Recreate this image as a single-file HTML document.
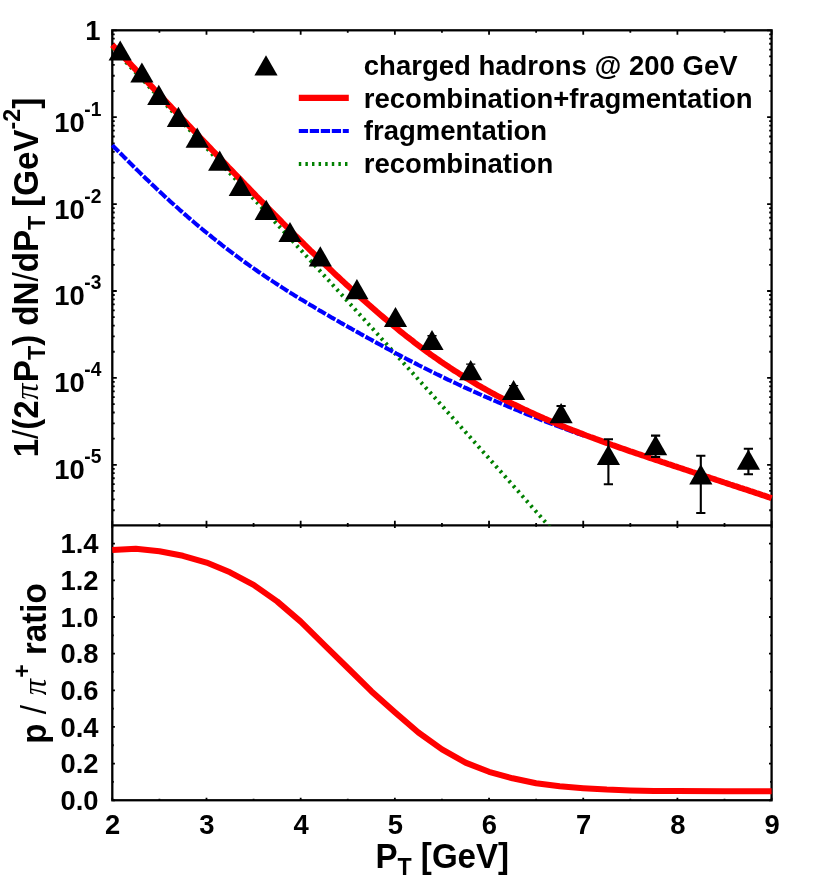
<!DOCTYPE html>
<html><head><meta charset="utf-8"><title>chart</title>
<style>html,body{margin:0;padding:0;background:#fff}svg{display:block}body{font-family:"Liberation Sans",sans-serif}</style></head>
<body>
<svg width="830" height="885" viewBox="0 0 830 885">
<rect width="830" height="885" fill="#fff"/>
<defs><clipPath id="ct"><rect x="106.3" y="30.3" width="671.3" height="495.1"/></clipPath></defs>
<g stroke="#000" fill="none">
<rect x="112.30" y="30.30" width="659.30" height="769.95" stroke-width="2.30"/>
<path d="M112.30 525.35 H771.60" stroke-width="2.2"/>
<path d="M112.30 30.30 v4.50 M112.30 520.85 v7.10 M112.30 800.25 v-2.60 M159.39 30.30 v2.40 M159.39 522.95 v3.90 M159.39 800.25 v-1.50 M206.49 30.30 v4.50 M206.49 520.85 v7.10 M206.49 800.25 v-2.60 M253.58 30.30 v2.40 M253.58 522.95 v3.90 M253.58 800.25 v-1.50 M300.67 30.30 v4.50 M300.67 520.85 v7.10 M300.67 800.25 v-2.60 M347.76 30.30 v2.40 M347.76 522.95 v3.90 M347.76 800.25 v-1.50 M394.86 30.30 v4.50 M394.86 520.85 v7.10 M394.86 800.25 v-2.60 M441.95 30.30 v2.40 M441.95 522.95 v3.90 M441.95 800.25 v-1.50 M489.04 30.30 v4.50 M489.04 520.85 v7.10 M489.04 800.25 v-2.60 M536.14 30.30 v2.40 M536.14 522.95 v3.90 M536.14 800.25 v-1.50 M583.23 30.30 v4.50 M583.23 520.85 v7.10 M583.23 800.25 v-2.60 M630.32 30.30 v2.40 M630.32 522.95 v3.90 M630.32 800.25 v-1.50 M677.41 30.30 v4.50 M677.41 520.85 v7.10 M677.41 800.25 v-2.60 M724.51 30.30 v2.40 M724.51 522.95 v3.90 M724.51 800.25 v-1.50 M771.60 30.30 v4.50 M771.60 520.85 v7.10 M771.60 800.25 v-2.60 M112.30 30.30 h4.50 M771.60 30.30 h-4.50 M112.30 91.04 h2.40 M771.60 91.04 h-2.40 M112.30 75.74 h2.40 M771.60 75.74 h-2.40 M112.30 64.88 h2.40 M771.60 64.88 h-2.40 M112.30 56.46 h2.40 M771.60 56.46 h-2.40 M112.30 49.58 h2.40 M771.60 49.58 h-2.40 M112.30 43.76 h2.40 M771.60 43.76 h-2.40 M112.30 38.72 h2.40 M771.60 38.72 h-2.40 M112.30 34.28 h2.40 M771.60 34.28 h-2.40 M112.30 117.20 h4.50 M771.60 117.20 h-4.50 M112.30 177.94 h2.40 M771.60 177.94 h-2.40 M112.30 162.64 h2.40 M771.60 162.64 h-2.40 M112.30 151.78 h2.40 M771.60 151.78 h-2.40 M112.30 143.36 h2.40 M771.60 143.36 h-2.40 M112.30 136.48 h2.40 M771.60 136.48 h-2.40 M112.30 130.66 h2.40 M771.60 130.66 h-2.40 M112.30 125.62 h2.40 M771.60 125.62 h-2.40 M112.30 121.18 h2.40 M771.60 121.18 h-2.40 M112.30 204.10 h4.50 M771.60 204.10 h-4.50 M112.30 264.84 h2.40 M771.60 264.84 h-2.40 M112.30 249.54 h2.40 M771.60 249.54 h-2.40 M112.30 238.68 h2.40 M771.60 238.68 h-2.40 M112.30 230.26 h2.40 M771.60 230.26 h-2.40 M112.30 223.38 h2.40 M771.60 223.38 h-2.40 M112.30 217.56 h2.40 M771.60 217.56 h-2.40 M112.30 212.52 h2.40 M771.60 212.52 h-2.40 M112.30 208.08 h2.40 M771.60 208.08 h-2.40 M112.30 291.00 h4.50 M771.60 291.00 h-4.50 M112.30 351.74 h2.40 M771.60 351.74 h-2.40 M112.30 336.44 h2.40 M771.60 336.44 h-2.40 M112.30 325.58 h2.40 M771.60 325.58 h-2.40 M112.30 317.16 h2.40 M771.60 317.16 h-2.40 M112.30 310.28 h2.40 M771.60 310.28 h-2.40 M112.30 304.46 h2.40 M771.60 304.46 h-2.40 M112.30 299.42 h2.40 M771.60 299.42 h-2.40 M112.30 294.98 h2.40 M771.60 294.98 h-2.40 M112.30 377.90 h4.50 M771.60 377.90 h-4.50 M112.30 438.64 h2.40 M771.60 438.64 h-2.40 M112.30 423.34 h2.40 M771.60 423.34 h-2.40 M112.30 412.48 h2.40 M771.60 412.48 h-2.40 M112.30 404.06 h2.40 M771.60 404.06 h-2.40 M112.30 397.18 h2.40 M771.60 397.18 h-2.40 M112.30 391.36 h2.40 M771.60 391.36 h-2.40 M112.30 386.32 h2.40 M771.60 386.32 h-2.40 M112.30 381.88 h2.40 M771.60 381.88 h-2.40 M112.30 464.80 h4.50 M771.60 464.80 h-4.50 M112.30 510.24 h2.40 M771.60 510.24 h-2.40 M112.30 499.38 h2.40 M771.60 499.38 h-2.40 M112.30 490.96 h2.40 M771.60 490.96 h-2.40 M112.30 484.08 h2.40 M771.60 484.08 h-2.40 M112.30 478.26 h2.40 M771.60 478.26 h-2.40 M112.30 473.22 h2.40 M771.60 473.22 h-2.40 M112.30 468.78 h2.40 M771.60 468.78 h-2.40 M112.30 800.25 h2.60 M771.60 800.25 h-2.60 M112.30 781.92 h1.50 M771.60 781.92 h-1.50 M112.30 763.60 h2.60 M771.60 763.60 h-2.60 M112.30 745.27 h1.50 M771.60 745.27 h-1.50 M112.30 726.94 h2.60 M771.60 726.94 h-2.60 M112.30 708.62 h1.50 M771.60 708.62 h-1.50 M112.30 690.29 h2.60 M771.60 690.29 h-2.60 M112.30 671.96 h1.50 M771.60 671.96 h-1.50 M112.30 653.64 h2.60 M771.60 653.64 h-2.60 M112.30 635.31 h1.50 M771.60 635.31 h-1.50 M112.30 616.98 h2.60 M771.60 616.98 h-2.60 M112.30 598.66 h1.50 M771.60 598.66 h-1.50 M112.30 580.33 h2.60 M771.60 580.33 h-2.60 M112.30 562.00 h1.50 M771.60 562.00 h-1.50 M112.30 543.68 h2.60 M771.60 543.68 h-2.60" stroke-width="1.80"/>
</g>
<g clip-path="url(#ct)" fill="none">
<path d="M112.3 47.6 L114.3 49.8 L116.3 51.9 L118.3 54.0 L120.3 56.1 L122.3 58.2 L124.3 60.3 L126.3 62.5 L128.3 64.6 L130.3 66.7 L132.3 68.8 L134.3 70.9 L136.3 73.1 L138.3 75.2 L140.3 77.3 L142.3 79.4 L144.3 81.5 L146.3 83.7 L148.3 85.8 L150.3 87.9 L152.3 90.0 L154.3 92.2 L156.3 94.3 L158.3 96.4 L160.3 98.6 L162.3 100.7 L164.3 102.8 L166.3 105.0 L168.3 107.1 L170.3 109.2 L172.3 111.4 L174.3 113.5 L176.3 115.6 L178.3 117.8 L180.3 119.9 L182.3 122.0 L184.3 124.2 L186.3 126.3 L188.3 128.5 L190.3 130.6 L192.3 132.7 L194.3 134.9 L196.3 137.0 L198.3 139.2 L200.3 141.3 L202.3 143.5 L204.3 145.6 L206.3 147.7 L208.3 149.9 L210.3 152.0 L212.3 154.2 L214.3 156.3 L216.3 158.5 L218.3 160.6 L220.3 162.8 L222.3 164.9 L224.3 167.1 L226.3 169.3 L228.3 171.4 L230.3 173.6 L232.3 175.7 L234.3 177.9 L236.3 180.0 L238.3 182.2 L240.3 184.3 L242.3 186.5 L244.3 188.7 L246.3 190.8 L248.3 193.0 L250.3 195.2 L252.3 197.3 L254.3 199.5 L256.3 201.6 L258.3 203.8 L260.3 206.0 L262.3 208.1 L264.3 210.3 L266.3 212.5 L268.3 214.6 L270.3 216.8 L272.3 219.0 L274.3 221.2 L276.3 223.3 L278.3 225.5 L280.3 227.7 L282.3 229.8 L284.3 232.0 L286.3 234.2 L288.3 236.4 L290.3 238.5 L292.3 240.7 L294.3 242.9 L296.3 245.1 L298.3 247.3 L300.3 249.4 L302.3 251.6 L304.3 253.8 L306.3 256.0 L308.3 258.2 L310.3 260.4 L312.3 262.5 L314.3 264.7 L316.3 266.9 L318.3 269.1 L320.3 271.3 L322.3 273.5 L324.3 275.7 L326.3 277.9 L328.3 280.0 L330.3 282.2 L332.3 284.4 L334.3 286.6 L336.3 288.8 L338.3 291.0 L340.3 293.2 L342.3 295.4 L344.3 297.6 L346.3 299.8 L348.3 302.0 L350.3 304.2 L352.3 306.4 L354.3 308.6 L356.3 310.8 L358.3 313.0 L360.3 315.2 L362.3 317.4 L364.3 319.6 L366.3 321.8 L368.3 324.0 L370.3 326.2 L372.3 328.4 L374.3 330.6 L376.3 332.8 L378.3 335.0 L380.3 337.3 L382.3 339.5 L384.3 341.7 L386.3 343.9 L388.3 346.1 L390.3 348.3 L392.3 350.5 L394.3 352.7 L396.3 355.0 L398.3 357.2 L400.3 359.4 L402.3 361.6 L404.3 363.8 L406.3 366.0 L408.3 368.3 L410.3 370.5 L412.3 372.7 L414.3 374.9 L416.3 377.1 L418.3 379.4 L420.3 381.6 L422.3 383.8 L424.3 386.0 L426.3 388.3 L428.3 390.5 L430.3 392.7 L432.3 394.9 L434.3 397.2 L436.3 399.4 L438.3 401.6 L440.3 403.9 L442.3 406.1 L444.3 408.3 L446.3 410.6 L448.3 412.8 L450.3 415.0 L452.3 417.3 L454.3 419.5 L456.3 421.7 L458.3 424.0 L460.3 426.2 L462.3 428.5 L464.3 430.7 L466.3 432.9 L468.3 435.2 L470.3 437.4 L472.3 439.7 L474.3 441.9 L476.3 444.1 L478.3 446.4 L480.3 448.6 L482.3 450.9 L484.3 453.1 L486.3 455.4 L488.3 457.6 L490.3 459.9 L492.3 462.1 L494.3 464.4 L496.3 466.6 L498.3 468.9 L500.3 471.1 L502.3 473.4 L504.3 475.6 L506.3 477.9 L508.3 480.1 L510.3 482.4 L512.3 484.7 L514.3 486.9 L516.3 489.2 L518.3 491.4 L520.3 493.7 L522.3 496.0 L524.3 498.2 L526.3 500.5 L528.3 502.7 L530.3 505.0 L532.3 507.3 L534.3 509.5 L536.3 511.8 L538.3 514.1 L540.3 516.3 L542.3 518.6 L544.3 520.9 L546.3 523.1 L548.3 525.4 L550.3 527.7" stroke="#008000" stroke-width="4" stroke-dasharray="2.45 4.15"/>
<path d="M112.3 145.1 L114.3 147.2 L116.3 149.2 L118.3 151.2 L120.3 153.2 L122.3 155.2 L124.3 157.3 L126.3 159.3 L128.3 161.3 L130.3 163.3 L132.3 165.2 L134.3 167.2 L136.3 169.2 L138.3 171.1 L140.3 173.1 L142.3 175.1 L144.3 177.0 L146.3 178.9 L148.3 180.8 L150.3 182.8 L152.3 184.7 L154.3 186.6 L156.3 188.5 L158.3 190.3 L160.3 192.2 L162.3 194.1 L164.3 195.9 L166.3 197.8 L168.3 199.6 L170.3 201.4 L172.3 203.2 L174.3 205.0 L176.3 206.8 L178.3 208.6 L180.3 210.4 L182.3 212.1 L184.3 213.9 L186.3 215.6 L188.3 217.4 L190.3 219.1 L192.3 220.8 L194.3 222.5 L196.3 224.2 L198.3 225.9 L200.3 227.5 L202.3 229.2 L204.3 230.9 L206.3 232.5 L208.3 234.1 L210.3 235.7 L212.3 237.4 L214.3 239.0 L216.3 240.5 L218.3 242.1 L220.3 243.7 L222.3 245.3 L224.3 246.8 L226.3 248.3 L228.3 249.9 L230.3 251.4 L232.3 252.9 L234.3 254.4 L236.3 255.9 L238.3 257.4 L240.3 258.9 L242.3 260.3 L244.3 261.8 L246.3 263.2 L248.3 264.6 L250.3 266.1 L252.3 267.5 L254.3 268.9 L256.3 270.3 L258.3 271.7 L260.3 273.0 L262.3 274.4 L264.3 275.8 L266.3 277.1 L268.3 278.5 L270.3 279.8 L272.3 281.1 L274.3 282.4 L276.3 283.7 L278.3 285.0 L280.3 286.3 L282.3 287.6 L284.3 288.9 L286.3 290.2 L288.3 291.4 L290.3 292.7 L292.3 293.9 L294.3 295.2 L296.3 296.4 L298.3 297.6 L300.3 298.9 L302.3 300.1 L304.3 301.3 L306.3 302.5 L308.3 303.7 L310.3 304.9 L312.3 306.1 L314.3 307.3 L316.3 308.5 L318.3 309.7 L320.3 310.9 L322.3 312.0 L324.3 313.2 L326.3 314.4 L328.3 315.5 L330.3 316.7 L332.3 317.9 L334.3 319.0 L336.3 320.2 L338.3 321.3 L340.3 322.5 L342.3 323.6 L344.3 324.7 L346.3 325.9 L348.3 327.0 L350.3 328.1 L352.3 329.3 L354.3 330.4 L356.3 331.5 L358.3 332.6 L360.3 333.8 L362.3 334.9 L364.3 336.0 L366.3 337.1 L368.3 338.2 L370.3 339.3 L372.3 340.4 L374.3 341.5 L376.3 342.6 L378.3 343.7 L380.3 344.8 L382.3 345.9 L384.3 347.0 L386.3 348.1 L388.3 349.2 L390.3 350.3 L392.3 351.3 L394.3 352.4 L396.3 353.5 L398.3 354.5 L400.3 355.6 L402.3 356.7 L404.3 357.7 L406.3 358.8 L408.3 359.8 L410.3 360.8 L412.3 361.9 L414.3 362.9 L416.3 363.9 L418.3 365.0 L420.3 366.0 L422.3 367.0 L424.3 368.0 L426.3 369.0 L428.3 370.0 L430.3 371.0 L432.3 372.0 L434.3 373.0 L436.3 374.0 L438.3 374.9 L440.3 375.9 L442.3 376.9 L444.3 377.8 L446.3 378.8 L448.3 379.8 L450.3 380.7 L452.3 381.7 L454.3 382.6 L456.3 383.5 L458.3 384.5 L460.3 385.4 L462.3 386.3 L464.3 387.3 L466.3 388.2 L468.3 389.1 L470.3 390.0 L472.3 390.9 L474.3 391.8 L476.3 392.7 L478.3 393.6 L480.3 394.5 L482.3 395.4 L484.3 396.3 L486.3 397.2 L488.3 398.0 L490.3 398.9 L492.3 399.8 L494.3 400.6 L496.3 401.5 L498.3 402.4 L500.3 403.2 L502.3 404.1 L504.3 404.9 L506.3 405.7 L508.3 406.6 L510.3 407.4 L512.3 408.2 L514.3 409.1 L516.3 409.9 L518.3 410.7 L520.3 411.5 L522.3 412.3 L524.3 413.2 L526.3 414.0 L528.3 414.8 L530.3 415.6 L532.3 416.4 L534.3 417.1 L536.3 417.9 L538.3 418.7 L540.3 419.5 L542.3 420.3 L544.3 421.1 L546.3 421.8 L548.3 422.6 L550.3 423.4 L552.3 424.1 L554.3 424.9 L556.3 425.6 L558.3 426.4 L560.3 427.1 L562.3 427.9 L564.3 428.6 L566.3 429.4 L568.3 430.1 L570.3 430.8 L572.3 431.6 L574.3 432.3 L576.3 433.0 L578.3 433.7 L580.3 434.4 L582.3 435.2 L584.3 435.9" stroke="#0000ff" stroke-width="4.1" stroke-dasharray="9.25 1.75"/>
<path d="M112.3 44.9 L114.3 47.0 L116.3 49.1 L118.3 51.2 L120.3 53.3 L122.3 55.4 L124.3 57.5 L126.3 59.7 L128.3 61.8 L130.3 63.9 L132.3 66.0 L134.3 68.1 L136.3 70.2 L138.3 72.3 L140.3 74.4 L142.3 76.5 L144.3 78.6 L146.3 80.8 L148.3 82.9 L150.3 85.0 L152.3 87.1 L154.3 89.2 L156.3 91.3 L158.3 93.4 L160.3 95.5 L162.3 97.6 L164.3 99.7 L166.3 101.9 L168.3 104.0 L170.3 106.1 L172.3 108.2 L174.3 110.3 L176.3 112.4 L178.3 114.5 L180.3 116.6 L182.3 118.7 L184.3 120.8 L186.3 122.9 L188.3 125.0 L190.3 127.1 L192.3 129.2 L194.3 131.3 L196.3 133.4 L198.3 135.6 L200.3 137.7 L202.3 139.8 L204.3 141.9 L206.3 143.9 L208.3 146.0 L210.3 148.1 L212.3 150.2 L214.3 152.3 L216.3 154.4 L218.3 156.5 L220.3 158.6 L222.3 160.7 L224.3 162.8 L226.3 164.9 L228.3 167.0 L230.3 169.0 L232.3 171.1 L234.3 173.2 L236.3 175.3 L238.3 177.4 L240.3 179.4 L242.3 181.5 L244.3 183.6 L246.3 185.7 L248.3 187.7 L250.3 189.8 L252.3 191.9 L254.3 193.9 L256.3 196.0 L258.3 198.0 L260.3 200.1 L262.3 202.1 L264.3 204.2 L266.3 206.2 L268.3 208.3 L270.3 210.3 L272.3 212.3 L274.3 214.4 L276.3 216.4 L278.3 218.4 L280.3 220.4 L282.3 222.5 L284.3 224.5 L286.3 226.5 L288.3 228.5 L290.3 230.5 L292.3 232.5 L294.3 234.5 L296.3 236.5 L298.3 238.4 L300.3 240.4 L302.3 242.4 L304.3 244.4 L306.3 246.3 L308.3 248.3 L310.3 250.3 L312.3 252.2 L314.3 254.1 L316.3 256.1 L318.3 258.0 L320.3 259.9 L322.3 261.9 L324.3 263.8 L326.3 265.7 L328.3 267.6 L330.3 269.5 L332.3 271.4 L334.3 273.3 L336.3 275.2 L338.3 277.0 L340.3 278.9 L342.3 280.8 L344.3 282.6 L346.3 284.5 L348.3 286.3 L350.3 288.1 L352.3 290.0 L354.3 291.8 L356.3 293.6 L358.3 295.4 L360.3 297.2 L362.3 299.0 L364.3 300.8 L366.3 302.5 L368.3 304.3 L370.3 306.0 L372.3 307.8 L374.3 309.5 L376.3 311.3 L378.3 313.0 L380.3 314.7 L382.3 316.4 L384.3 318.1 L386.3 319.8 L388.3 321.5 L390.3 323.1 L392.3 324.8 L394.3 326.4 L396.3 328.0 L398.3 329.7 L400.3 331.3 L402.3 332.9 L404.3 334.5 L406.3 336.1 L408.3 337.6 L410.3 339.2 L412.3 340.7 L414.3 342.3 L416.3 343.8 L418.3 345.3 L420.3 346.8 L422.3 348.3 L424.3 349.8 L426.3 351.3 L428.3 352.7 L430.3 354.2 L432.3 355.6 L434.3 357.0 L436.3 358.4 L438.3 359.8 L440.3 361.2 L442.3 362.6 L444.3 363.9 L446.3 365.3 L448.3 366.6 L450.3 367.9 L452.3 369.3 L454.3 370.6 L456.3 371.8 L458.3 373.1 L460.3 374.4 L462.3 375.6 L464.3 376.9 L466.3 378.1 L468.3 379.3 L470.3 380.5 L472.3 381.7 L474.3 382.9 L476.3 384.1 L478.3 385.3 L480.3 386.4 L482.3 387.6 L484.3 388.7 L486.3 389.8 L488.3 391.0 L490.3 392.1 L492.3 393.2 L494.3 394.2 L496.3 395.3 L498.3 396.4 L500.3 397.4 L502.3 398.5 L504.3 399.5 L506.3 400.5 L508.3 401.6 L510.3 402.6 L512.3 403.6 L514.3 404.6 L516.3 405.5 L518.3 406.5 L520.3 407.5 L522.3 408.4 L524.3 409.4 L526.3 410.3 L528.3 411.3 L530.3 412.2 L532.3 413.1 L534.3 414.0 L536.3 414.9 L538.3 415.8 L540.3 416.7 L542.3 417.6 L544.3 418.5 L546.3 419.3 L548.3 420.2 L550.3 421.1 L552.3 421.9 L554.3 422.7 L556.3 423.6 L558.3 424.4 L560.3 425.2 L562.3 426.1 L564.3 426.9 L566.3 427.7 L568.3 428.5 L570.3 429.3 L572.3 430.1 L574.3 430.8 L576.3 431.6 L578.3 432.4 L580.3 433.2 L582.3 433.9 L584.3 434.7 L586.3 435.5 L588.3 436.2 L590.3 437.0 L592.3 437.7 L594.3 438.4 L596.3 439.2 L598.3 439.9 L600.3 440.6 L602.3 441.4 L604.3 442.1 L606.3 442.8 L608.3 443.5 L610.3 444.2 L612.3 445.0 L614.3 445.7 L616.3 446.4 L618.3 447.1 L620.3 447.8 L622.3 448.5 L624.3 449.2 L626.3 449.9 L628.3 450.6 L630.3 451.3 L632.3 451.9 L634.3 452.6 L636.3 453.3 L638.3 454.0 L640.3 454.7 L642.3 455.4 L644.3 456.0 L646.3 456.7 L648.3 457.4 L650.3 458.1 L652.3 458.7 L654.3 459.4 L656.3 460.1 L658.3 460.7 L660.3 461.4 L662.3 462.1 L664.3 462.7 L666.3 463.4 L668.3 464.1 L670.3 464.7 L672.3 465.4 L674.3 466.1 L676.3 466.7 L678.3 467.4 L680.3 468.0 L682.3 468.7 L684.3 469.4 L686.3 470.0 L688.3 470.7 L690.3 471.3 L692.3 472.0 L694.3 472.6 L696.3 473.3 L698.3 474.0 L700.3 474.6 L702.3 475.3 L704.3 475.9 L706.3 476.6 L708.3 477.2 L710.3 477.9 L712.3 478.5 L714.3 479.2 L716.3 479.9 L718.3 480.5 L720.3 481.2 L722.3 481.8 L724.3 482.5 L726.3 483.1 L728.3 483.8 L730.3 484.5 L732.3 485.1 L734.3 485.8 L736.3 486.4 L738.3 487.1 L740.3 487.8 L742.3 488.4 L744.3 489.1 L746.3 489.7 L748.3 490.4 L750.3 491.1 L752.3 491.7 L754.3 492.4 L756.3 493.1 L758.3 493.7 L760.3 494.4 L762.3 495.1 L764.3 495.7 L766.3 496.4 L768.3 497.1 L770.3 497.7 L771.6 498.2" stroke="#ff0000" stroke-width="6"/>
</g>
<path d="M112.3 549.9 L135.8 548.7 L159.4 551.2 L182.9 555.8 L206.5 562.6 L230.0 572.3 L253.6 584.9 L277.1 601.4 L300.7 621.6 L324.2 644.8 L347.8 668.0 L371.3 691.2 L394.9 712.3 L418.4 732.5 L442.0 749.4 L465.5 762.6 L489.0 771.8 L512.6 778.3 L536.1 783.2 L559.7 786.3 L583.2 788.2 L606.8 789.6 L630.3 790.4 L653.9 790.9 L677.4 791.1 L724.5 791.2 L771.6 791.2" fill="none" stroke="#ff0000" stroke-width="6" stroke-linejoin="round"/>
<g fill="none" stroke="#000" stroke-width="2.1">
<path d="M432.0 335.8 V345.0 M427.4 335.8 h9.2 M427.4 345.0 h9.2" stroke-width="1.4"/>
<path d="M470.7 364.1 V375.0 M466.1 364.1 h9.2 M466.1 375.0 h9.2" stroke-width="1.4"/>
<path d="M513.6 385.6 V395.0 M509.0 385.6 h9.2 M509.0 395.0 h9.2" stroke-width="1.4"/>
<path d="M561.1 406.0 V418.0 M556.5 406.0 h9.2 M556.5 418.0 h9.2"/>
<path d="M608.4 439.2 V484.2 M603.8 439.2 h9.2 M603.8 484.2 h9.2"/>
<path d="M655.6 435.6 V457.0 M651.0 435.6 h9.2 M651.0 457.0 h9.2"/>
<path d="M700.8 455.7 V513.0 M696.2 455.7 h9.2 M696.2 513.0 h9.2"/>
<path d="M748.4 448.8 V474.2 M743.8 448.8 h9.2 M743.8 474.2 h9.2"/>
</g><g fill="#000">
<path d="M120.20 40.40 L131.80 60.60 L108.60 60.60 Z"/>
<path d="M141.90 62.40 L153.50 82.60 L130.30 82.60 Z"/>
<path d="M158.80 84.80 L170.40 105.00 L147.20 105.00 Z"/>
<path d="M178.40 106.70 L190.00 126.90 L166.80 126.90 Z"/>
<path d="M197.20 127.50 L208.80 147.70 L185.60 147.70 Z"/>
<path d="M219.70 150.50 L231.30 170.70 L208.10 170.70 Z"/>
<path d="M240.30 175.80 L251.90 196.00 L228.70 196.00 Z"/>
<path d="M266.20 199.80 L277.80 220.00 L254.60 220.00 Z"/>
<path d="M290.00 221.90 L301.60 242.10 L278.40 242.10 Z"/>
<path d="M320.30 246.20 L331.90 266.40 L308.70 266.40 Z"/>
<path d="M356.90 279.10 L368.50 299.30 L345.30 299.30 Z"/>
<path d="M395.50 306.90 L407.10 327.10 L383.90 327.10 Z"/>
<path d="M432.00 329.90 L443.60 350.10 L420.40 350.10 Z"/>
<path d="M470.70 360.00 L482.30 380.20 L459.10 380.20 Z"/>
<path d="M513.60 379.90 L525.20 400.10 L502.00 400.10 Z"/>
<path d="M561.10 403.00 L572.70 423.20 L549.50 423.20 Z"/>
<path d="M608.40 444.80 L620.00 465.00 L596.80 465.00 Z"/>
<path d="M655.60 435.10 L667.20 455.30 L644.00 455.30 Z"/>
<path d="M700.80 464.20 L712.40 484.40 L689.20 484.40 Z"/>
<path d="M748.40 449.50 L760.00 469.70 L736.80 469.70 Z"/>
<path d="M266.00 55.20 L277.60 75.40 L254.40 75.40 Z"/>
</g>
<g fill="none">
<path d="M298.8 97.9 H348.8" stroke="#ff0000" stroke-width="6.1"/>
<path d="M298.8 131 H348.8" stroke="#0000ff" stroke-width="4.1" stroke-dasharray="9.25 1.75"/>
<path d="M298.8 164 H348.8" stroke="#008000" stroke-width="4" stroke-dasharray="2.45 4.15"/>
</g>
<g font-family="'Liberation Sans', sans-serif" font-weight="bold" fill="#000" style="will-change:transform">
<text transform="translate(112.70 833.90) scale(1 1.040)" font-size="27.4" text-anchor="middle">2</text>
<text transform="translate(206.89 833.90) scale(1 1.040)" font-size="27.4" text-anchor="middle">3</text>
<text transform="translate(301.07 833.90) scale(1 1.040)" font-size="27.4" text-anchor="middle">4</text>
<text transform="translate(395.26 833.90) scale(1 1.040)" font-size="27.4" text-anchor="middle">5</text>
<text transform="translate(489.44 833.90) scale(1 1.040)" font-size="27.4" text-anchor="middle">6</text>
<text transform="translate(583.63 833.90) scale(1 1.040)" font-size="27.4" text-anchor="middle">7</text>
<text transform="translate(677.81 833.90) scale(1 1.040)" font-size="27.4" text-anchor="middle">8</text>
<text transform="translate(772.00 833.90) scale(1 1.040)" font-size="27.4" text-anchor="middle">9</text>
<text transform="translate(98.60 809.85) scale(1 1.040)" font-size="27.4" text-anchor="end">0.0</text>
<text transform="translate(98.60 773.20) scale(1 1.040)" font-size="27.4" text-anchor="end">0.2</text>
<text transform="translate(98.60 736.54) scale(1 1.040)" font-size="27.4" text-anchor="end">0.4</text>
<text transform="translate(98.60 699.89) scale(1 1.040)" font-size="27.4" text-anchor="end">0.6</text>
<text transform="translate(98.60 663.24) scale(1 1.040)" font-size="27.4" text-anchor="end">0.8</text>
<text transform="translate(98.60 626.58) scale(1 1.040)" font-size="27.4" text-anchor="end">1.0</text>
<text transform="translate(98.60 589.93) scale(1 1.040)" font-size="27.4" text-anchor="end">1.2</text>
<text transform="translate(98.60 553.28) scale(1 1.040)" font-size="27.4" text-anchor="end">1.4</text>
<text transform="translate(100.60 40.20) scale(1 1.040)" font-size="27.4" text-anchor="end">1</text>
<text transform="translate(84.70 131.60) scale(1 1.040)" font-size="27.4" text-anchor="end">10</text>
<text transform="translate(84.35 115.60) scale(1 1.040)" font-size="19.2" text-anchor="start">-1</text>
<text transform="translate(84.70 218.50) scale(1 1.040)" font-size="27.4" text-anchor="end">10</text>
<text transform="translate(84.35 202.50) scale(1 1.040)" font-size="19.2" text-anchor="start">-2</text>
<text transform="translate(84.70 305.40) scale(1 1.040)" font-size="27.4" text-anchor="end">10</text>
<text transform="translate(84.35 289.40) scale(1 1.040)" font-size="19.2" text-anchor="start">-3</text>
<text transform="translate(84.70 392.30) scale(1 1.040)" font-size="27.4" text-anchor="end">10</text>
<text transform="translate(84.35 376.30) scale(1 1.040)" font-size="19.2" text-anchor="start">-4</text>
<text transform="translate(84.70 479.20) scale(1 1.040)" font-size="27.4" text-anchor="end">10</text>
<text transform="translate(84.35 463.20) scale(1 1.040)" font-size="19.2" text-anchor="start">-5</text>
<text x="363.8" y="74.8" font-size="27.5">charged hadrons @ 200 GeV</text>
<text x="363.8" y="107.6" font-size="27.5">recombination+fragmentation</text>
<text x="363.8" y="140.4" font-size="27.5">fragmentation</text>
<text x="363.8" y="173.2" font-size="27.5">recombination</text>
<text transform="translate(375.4 867.8) scale(1 1.042)" font-size="33.1">P<tspan font-size="23.2" dy="6.5">T</tspan><tspan dy="-6.5"> [GeV]</tspan></text>
<text transform="translate(38.0 457.3) rotate(-90) scale(1 1.042)" font-size="33.1">1<tspan font-weight="normal">/</tspan>(2<tspan font-family="'Liberation Serif', serif" font-weight="normal" font-style="italic" font-size="32.6" dx="0.6">π</tspan><tspan dx="1.2">P</tspan><tspan font-size="23.2" dy="6.5">T</tspan><tspan dy="-6.5">) dN</tspan><tspan font-weight="normal">/</tspan>dP<tspan font-size="23.2" dy="6.5">T</tspan><tspan dy="-6.5"> [GeV</tspan><tspan font-size="23.2" dy="-17.2" dx="0.0">-2</tspan><tspan dy="17.2">]</tspan></text>
<text transform="translate(46.0 743.7) rotate(-90) scale(1 1.042)" font-size="33.1">p <tspan font-weight="normal">/</tspan> <tspan font-family="'Liberation Serif', serif" font-weight="normal" font-style="italic" font-size="32.6" dx="0.6">π</tspan><tspan font-size="23.2" dy="-15.2" dx="1.2">+</tspan><tspan dy="15.2"> ratio</tspan></text>
</g>
</svg>
</body></html>
